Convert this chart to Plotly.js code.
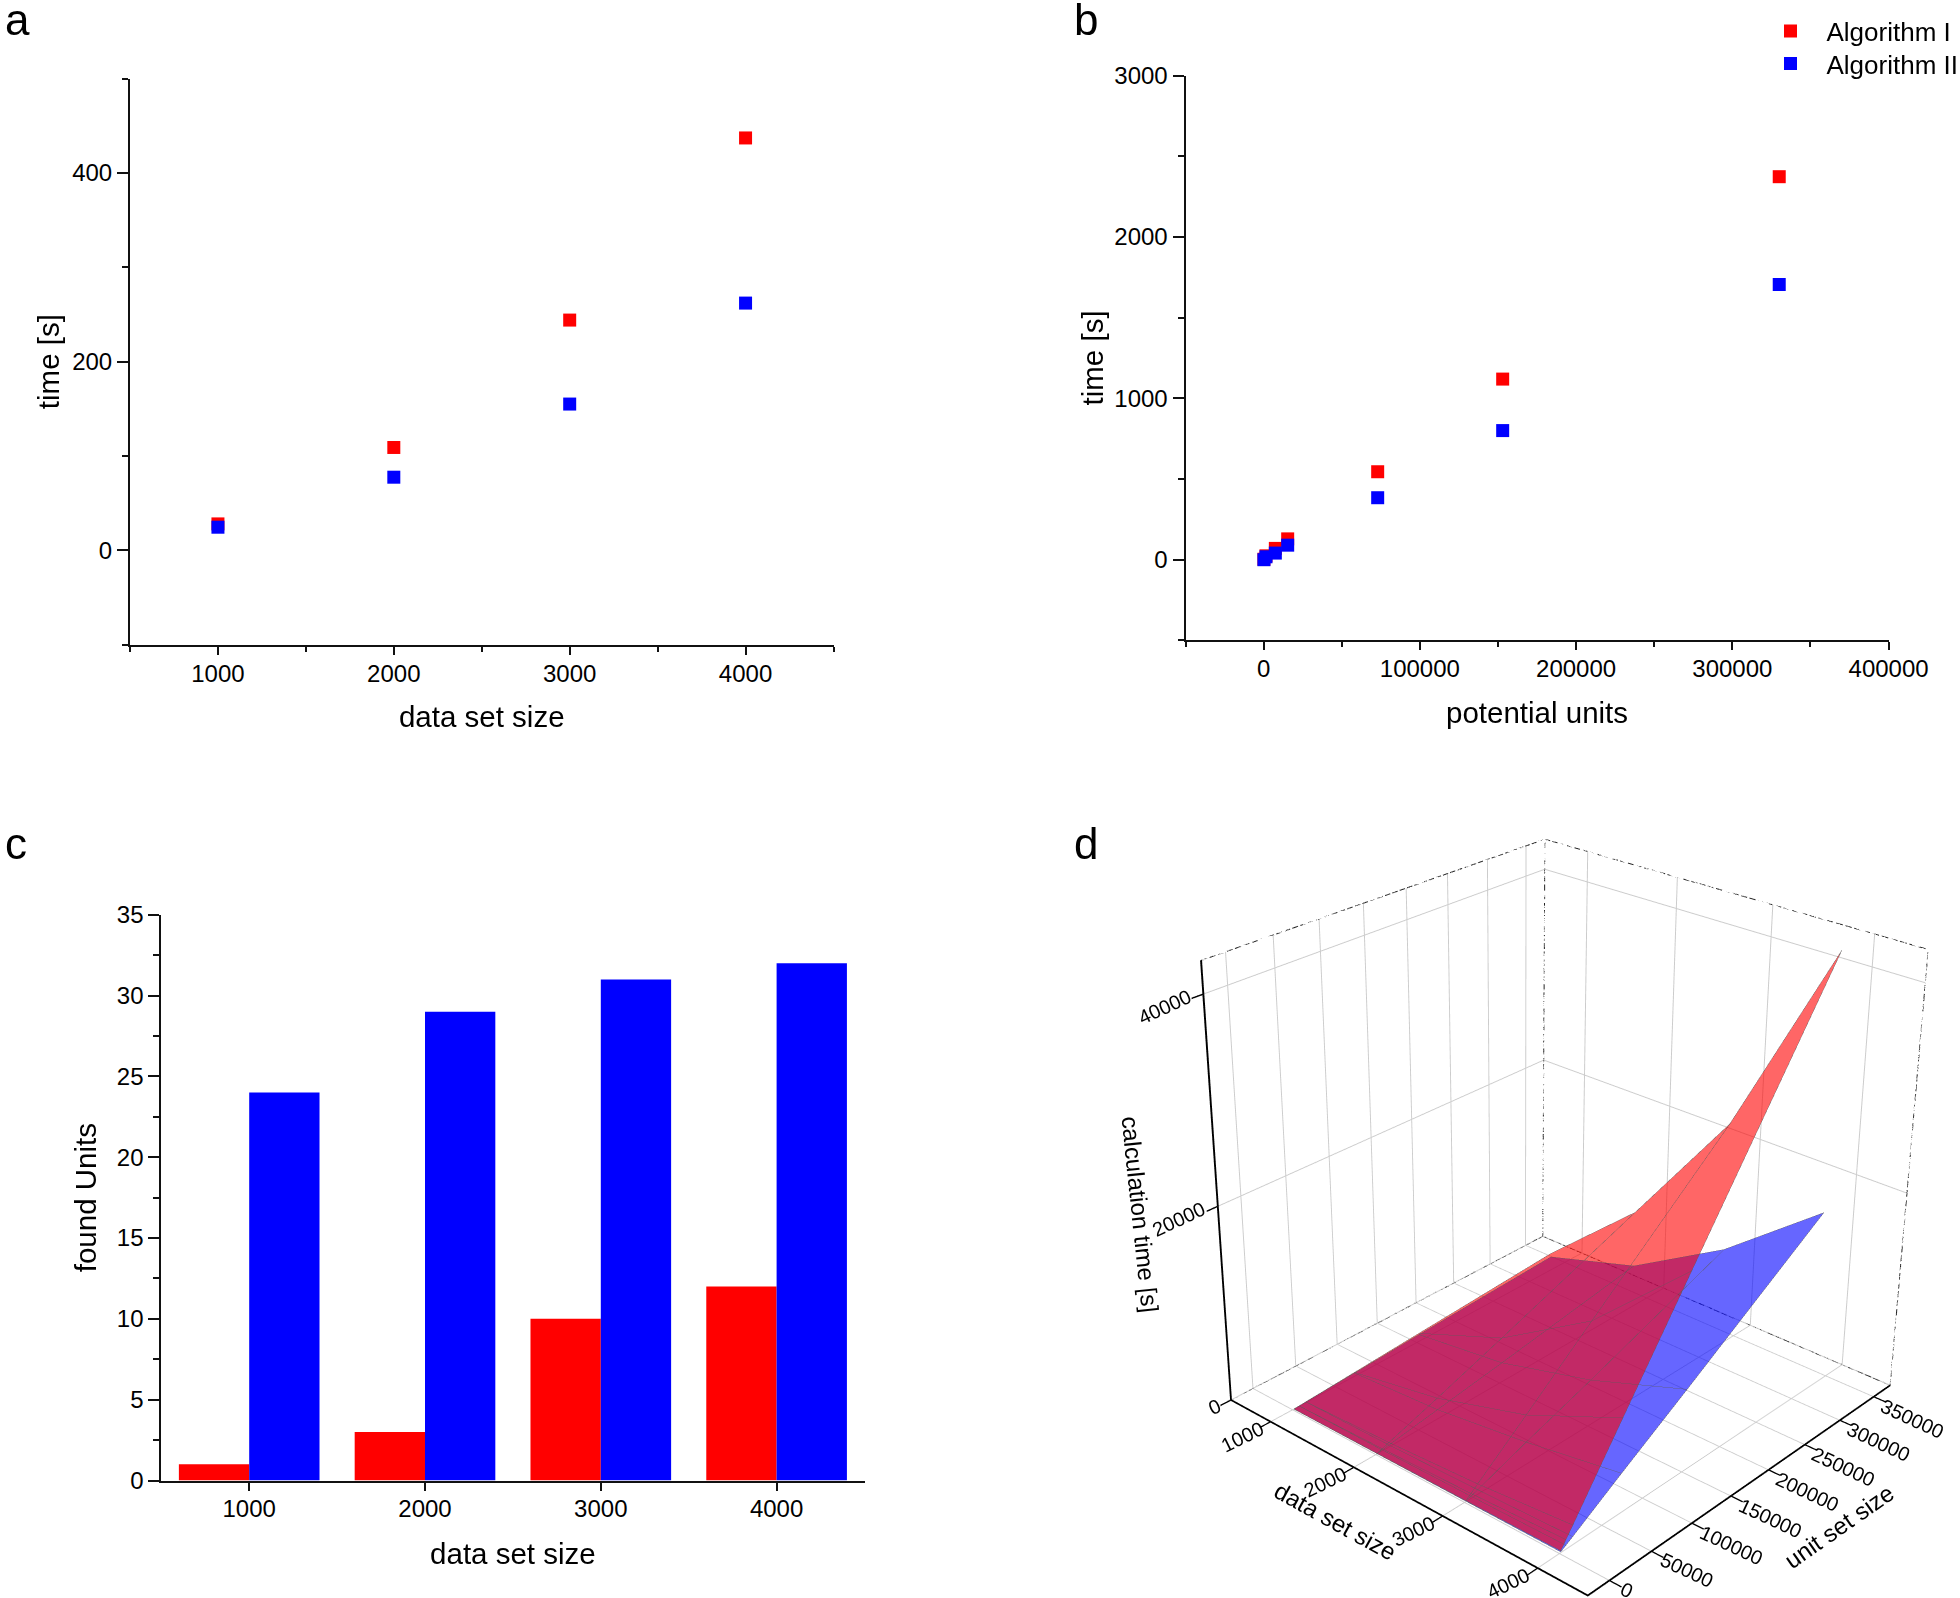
<!DOCTYPE html>
<html><head><meta charset="utf-8">
<script src="https://cdn.plot.ly/plotly-3.0.1.min.js"></script>
<style>html,body{margin:0;padding:0;background:#fff;overflow:hidden;width:1960px;height:1598px}#c{width:1960px;height:1598px;overflow:hidden;position:relative}</style></head>
<body><div id="c"></div>
<script>
const W=2100,H=2300,FONT='"Liberation Sans", Arial, sans-serif';
const sizesA=[1000,2000,3000,4000];
const timeA1=[28,109,244,437];
const timeA2=[24.5,77.5,155,262];
const unitsB=[200,1500,7500,15400,73000,153000,330000];
const timeB1=[3,24,70,129,545,1119,2373];
const timeB2=[0,18,41,90,384,800,1705];
const foundC1=[1,3,10,12];
const foundC2=[24,29,31,32];
const sizesD=[1000,2000,3000,4000];
const unitsD=[1500,7500,15400,73000,153000,330000];
const surfD1=[[9,43,89,420,880,1900],[45,230,470,2200,4700,10400],[100,510,1060,5100,10800,23300],[190,970,1980,9500,19900,42900]];
const surfD2=[[8,35,75,350,740,1500],[20,100,205,980,2040,4500],[45,225,460,2300,4700,10300],[80,400,820,4000,8300,18000]];
const xTicksD=[1000,2000,3000,4000];
const yTicksD=[0,50000,100000,150000,200000,250000,300000,350000];
const zTicksD=[0,20000,40000];
const xR=[500,4500],yR=[-25000,375000],zR=[0,43000];
const RED='#ff0000',BLUE='#0000ff';

const dx=(a,b)=>[a/W,b/W], dy=(t,b)=>[1-b/H,1-t/H];
function ax(o,dom,extra){return Object.assign({domain:dom,showgrid:false,zeroline:false,showline:true,linecolor:'#111',linewidth:2,
  ticks:'outside',tickwidth:2,tickcolor:'#111',tickfont:{family:FONT,size:24,color:'#000'},automargin:false,exponentformat:'none',separatethousands:false,tickformat:'d'},o,extra||{});}
const ttl=(t,s)=>({text:t,standoff:s,font:{family:FONT,size:29.5,color:'#000'}});
const minX=d=>({dtick:d,ticks:'outside',ticklen:5,tickwidth:2,tickcolor:'#111'});
const minY=d=>({dtick:d,ticks:'outside',ticklen:6,tickwidth:2,tickcolor:'#111'});

const mk=(x,y,c,xa,ya,name,leg)=>({type:'scatter',mode:'markers',x,y,xaxis:xa,yaxis:ya,name,showlegend:!!leg,legend:leg||undefined,
  marker:{symbol:'square',size:13,color:c},cliponaxis:false});
const bar=(x,y,c)=>({type:'bar',x,y,xaxis:'x3',yaxis:'y3',marker:{color:c,line:{width:0}},showlegend:false});

function surf(z,c,name){return {type:'surface',x:sizesD,y:unitsD,z:z[0].map((_,j)=>z.map(r=>r[j])),scene:'scene',name,
  colorscale:[[0,c],[1,c]],showscale:false,opacity:0.6,hoverinfo:'skip',
  lighting:{ambient:1,diffuse:0,specular:0,roughness:1,fresnel:0}};}
function meshLines(z){const X=[],Y=[],Z=[];
  sizesD.forEach((s,i)=>{unitsD.forEach((u,j)=>{X.push(s);Y.push(u);Z.push(z[i][j]);});X.push(null);Y.push(null);Z.push(null);});
  unitsD.forEach((u,j)=>{sizesD.forEach((s,i)=>{X.push(s);Y.push(u);Z.push(z[i][j]);});X.push(null);Y.push(null);Z.push(null);});
  return {type:'scatter3d',mode:'lines',x:X,y:Y,z:Z,scene:'scene',showlegend:false,hoverinfo:'skip',line:{color:'#5a5a5a',width:1},opacity:0.7};}
const [x0,x1]=xR,[y0,y1]=yR,[z0,z1]=zR;
const frame=(()=>{const X=[],Y=[],Z=[];
  const edge=(a,b,n)=>{for(let i=0;i<n;i++){const t0=i/n,t1=(i+0.72)/n;
    X.push(a[0]+(b[0]-a[0])*t0,a[0]+(b[0]-a[0])*t1,null);
    Y.push(a[1]+(b[1]-a[1])*t0,a[1]+(b[1]-a[1])*t1,null);
    Z.push(a[2]+(b[2]-a[2])*t0,a[2]+(b[2]-a[2])*t1,null);}};
  edge([x0,y1,z0],[x1,y1,z0],46);edge([x0,y1,z0],[x0,y0,z0],46);edge([x0,y1,z0],[x0,y1,z1],50);
  edge([x0,y0,z1],[x0,y1,z1],46);edge([x0,y1,z1],[x1,y1,z1],46);edge([x1,y1,z0],[x1,y1,z1],46);
  return {type:'scatter3d',mode:'lines',scene:'scene',showlegend:false,hoverinfo:'skip',line:{color:'#222',width:2},x:X,y:Y,z:Z};})();
const minorTicks=(()=>{const X=[],Y=[],Z=[];
  for(let i=0;i<xTicksD.length;i++){const v=xTicksD[i]+500;if(v<x1){X.push(v,v,null);Y.push(y0,y0-7000,null);Z.push(0,0,null);}}
  for(let i=0;i<yTicksD.length;i++){const v=yTicksD[i]+25000;if(v<y1){X.push(x1,x1+80,null);Y.push(v,v,null);Z.push(0,0,null);}}
  return {type:'scatter3d',mode:'lines',scene:'scene',showlegend:false,hoverinfo:'skip',x:X,y:Y,z:Z,line:{color:'#111',width:2}};})();

const sceneAnn=(x,y,z,text,angle,size,xs,ys)=>({x,y,z,text:String(text),textangle:angle,showarrow:false,xshift:xs||0,yshift:ys||0,
  font:{family:FONT,size:size||20,color:'#000'}});
const sa=[];
xTicksD.forEach(v=>sa.push(sceneAnn(v,y0,0,v,-26,20,-28,-15)));
yTicksD.forEach(v=>{const n=String(v).length;sa.push(sceneAnn(x1,v,0,v,25,20,n>5?40:n>1?36:18,n>5?-22:n>1?-19:-10));});
zTicksD.forEach(v=>sa.push(sceneAnn(x0,y0,v,v,-25,20,v?-38:-16,v?-13:-7)));
sa.push(sceneAnn(2500,y0,0,'data set size',29,24,-61,-30));
sa.push(sceneAnn(x1,175000,0,'unit set size',-35,24,90,-44));
sa.push(sceneAnn(x0,y0,21000,'calculation time [s]',84,24,-76,-18));

const lab=(t,x,y)=>({text:t,xref:'paper',yref:'paper',x:x/W,y:1-y/H,showarrow:false,xanchor:'left',yanchor:'middle',font:{family:FONT,size:44,color:'#000'}});

const data=[
  mk(sizesA,timeA1,RED,'x','y','Algorithm I'),mk(sizesA,timeA2,BLUE,'x','y','Algorithm II'),
  mk(unitsB,timeB1,RED,'x2','y2','Algorithm I','legend'),mk(unitsB,timeB2,BLUE,'x2','y2','Algorithm II','legend2'),
  bar(sizesA,foundC1,RED),bar(sizesA,foundC2,BLUE),
  surf(surfD2,BLUE,'Algorithm II'),surf(surfD1,RED,'Algorithm I'),meshLines(surfD1),meshLines(surfD2),frame,minorTicks
];
const ax3=(r,dt,ex)=>Object.assign({range:r,dtick:dt,tick0:0,autorange:false,showticklabels:false,title:{text:''},showgrid:true,gridcolor:'#cccccc',gridwidth:2,
  zeroline:false,showbackground:false,showline:true,linecolor:'#000',linewidth:4,ticks:'outside',ticklen:12,tickwidth:3,tickcolor:'#000',showspikes:false},ex||{});
const leg=(y)=>({x:1754.5/W,y:1-y/H,xanchor:'left',yanchor:'middle',bgcolor:'rgba(0,0,0,0)',font:{family:FONT,size:26,color:'#000'},itemwidth:62,tracegroupgap:0});
const xa=(o,d,a)=>ax(Object.assign({ticklabelstandoff:-2},o),d,{anchor:a});
const layout={width:W,height:H,margin:{l:0,r:0,t:0,b:0},paper_bgcolor:'#fff',plot_bgcolor:'#fff',barmode:'group',bargap:0.2,bargroupgap:0,
  showlegend:true,legend:leg(31),legend2:leg(63.5),
  xaxis:xa({range:[500,4500],dtick:1000,tick0:0,ticklen:8,title:ttl('data set size',21),minor:minX(500)},dx(130,833.5),'y'),
  yaxis:ax({range:[-100,500],dtick:200,tick0:0,ticklen:11,title:ttl('time [s]',4),minor:minY(100)},dy(78.5,644.7),{anchor:'x'}),
  xaxis2:xa({range:[-50000,400000],dtick:100000,tick0:0,ticklen:8,title:ttl('potential units',21),minor:minX(50000)},dx(1185.5,1888.6),'y2'),
  yaxis2:ax({range:[-500,3000],dtick:1000,tick0:0,ticklen:11,title:ttl('time [s]',2),minor:minY(500)},dy(75.5,640.4),{anchor:'x2'}),
  xaxis3:xa({range:[500,4500],dtick:1000,tick0:0,ticklen:8,title:ttl('data set size',22)},dx(161.3,864.5),'y3'),
  yaxis3:ax({range:[0,35],dtick:5,tick0:0,ticklen:11,title:ttl('found Units',11),minor:minY(2.5)},dy(914.8,1480.5),{anchor:'x3'}),
  scene:{domain:{x:dx(937.5,2100),y:dy(246,2123)},aspectmode:'manual',aspectratio:{x:1.042,y:1.033,z:1.038},
    camera:{eye:{x:2.812,y:-3.224,z:2.179},center:{x:-0.0704,y:-0.0642,z:0},up:{x:0,y:0,z:1}},
    xaxis:ax3(xR,1000),yaxis:ax3(yR,50000),zaxis:ax3(zR,20000),annotations:sa},
  annotations:[lab('a',3,20),lab('b',1072,20),lab('c',3,844),lab('d',1072,844)]
};
Plotly.newPlot('c',data,layout,{staticPlot:false,displayModeBar:false});
</script></body></html>
